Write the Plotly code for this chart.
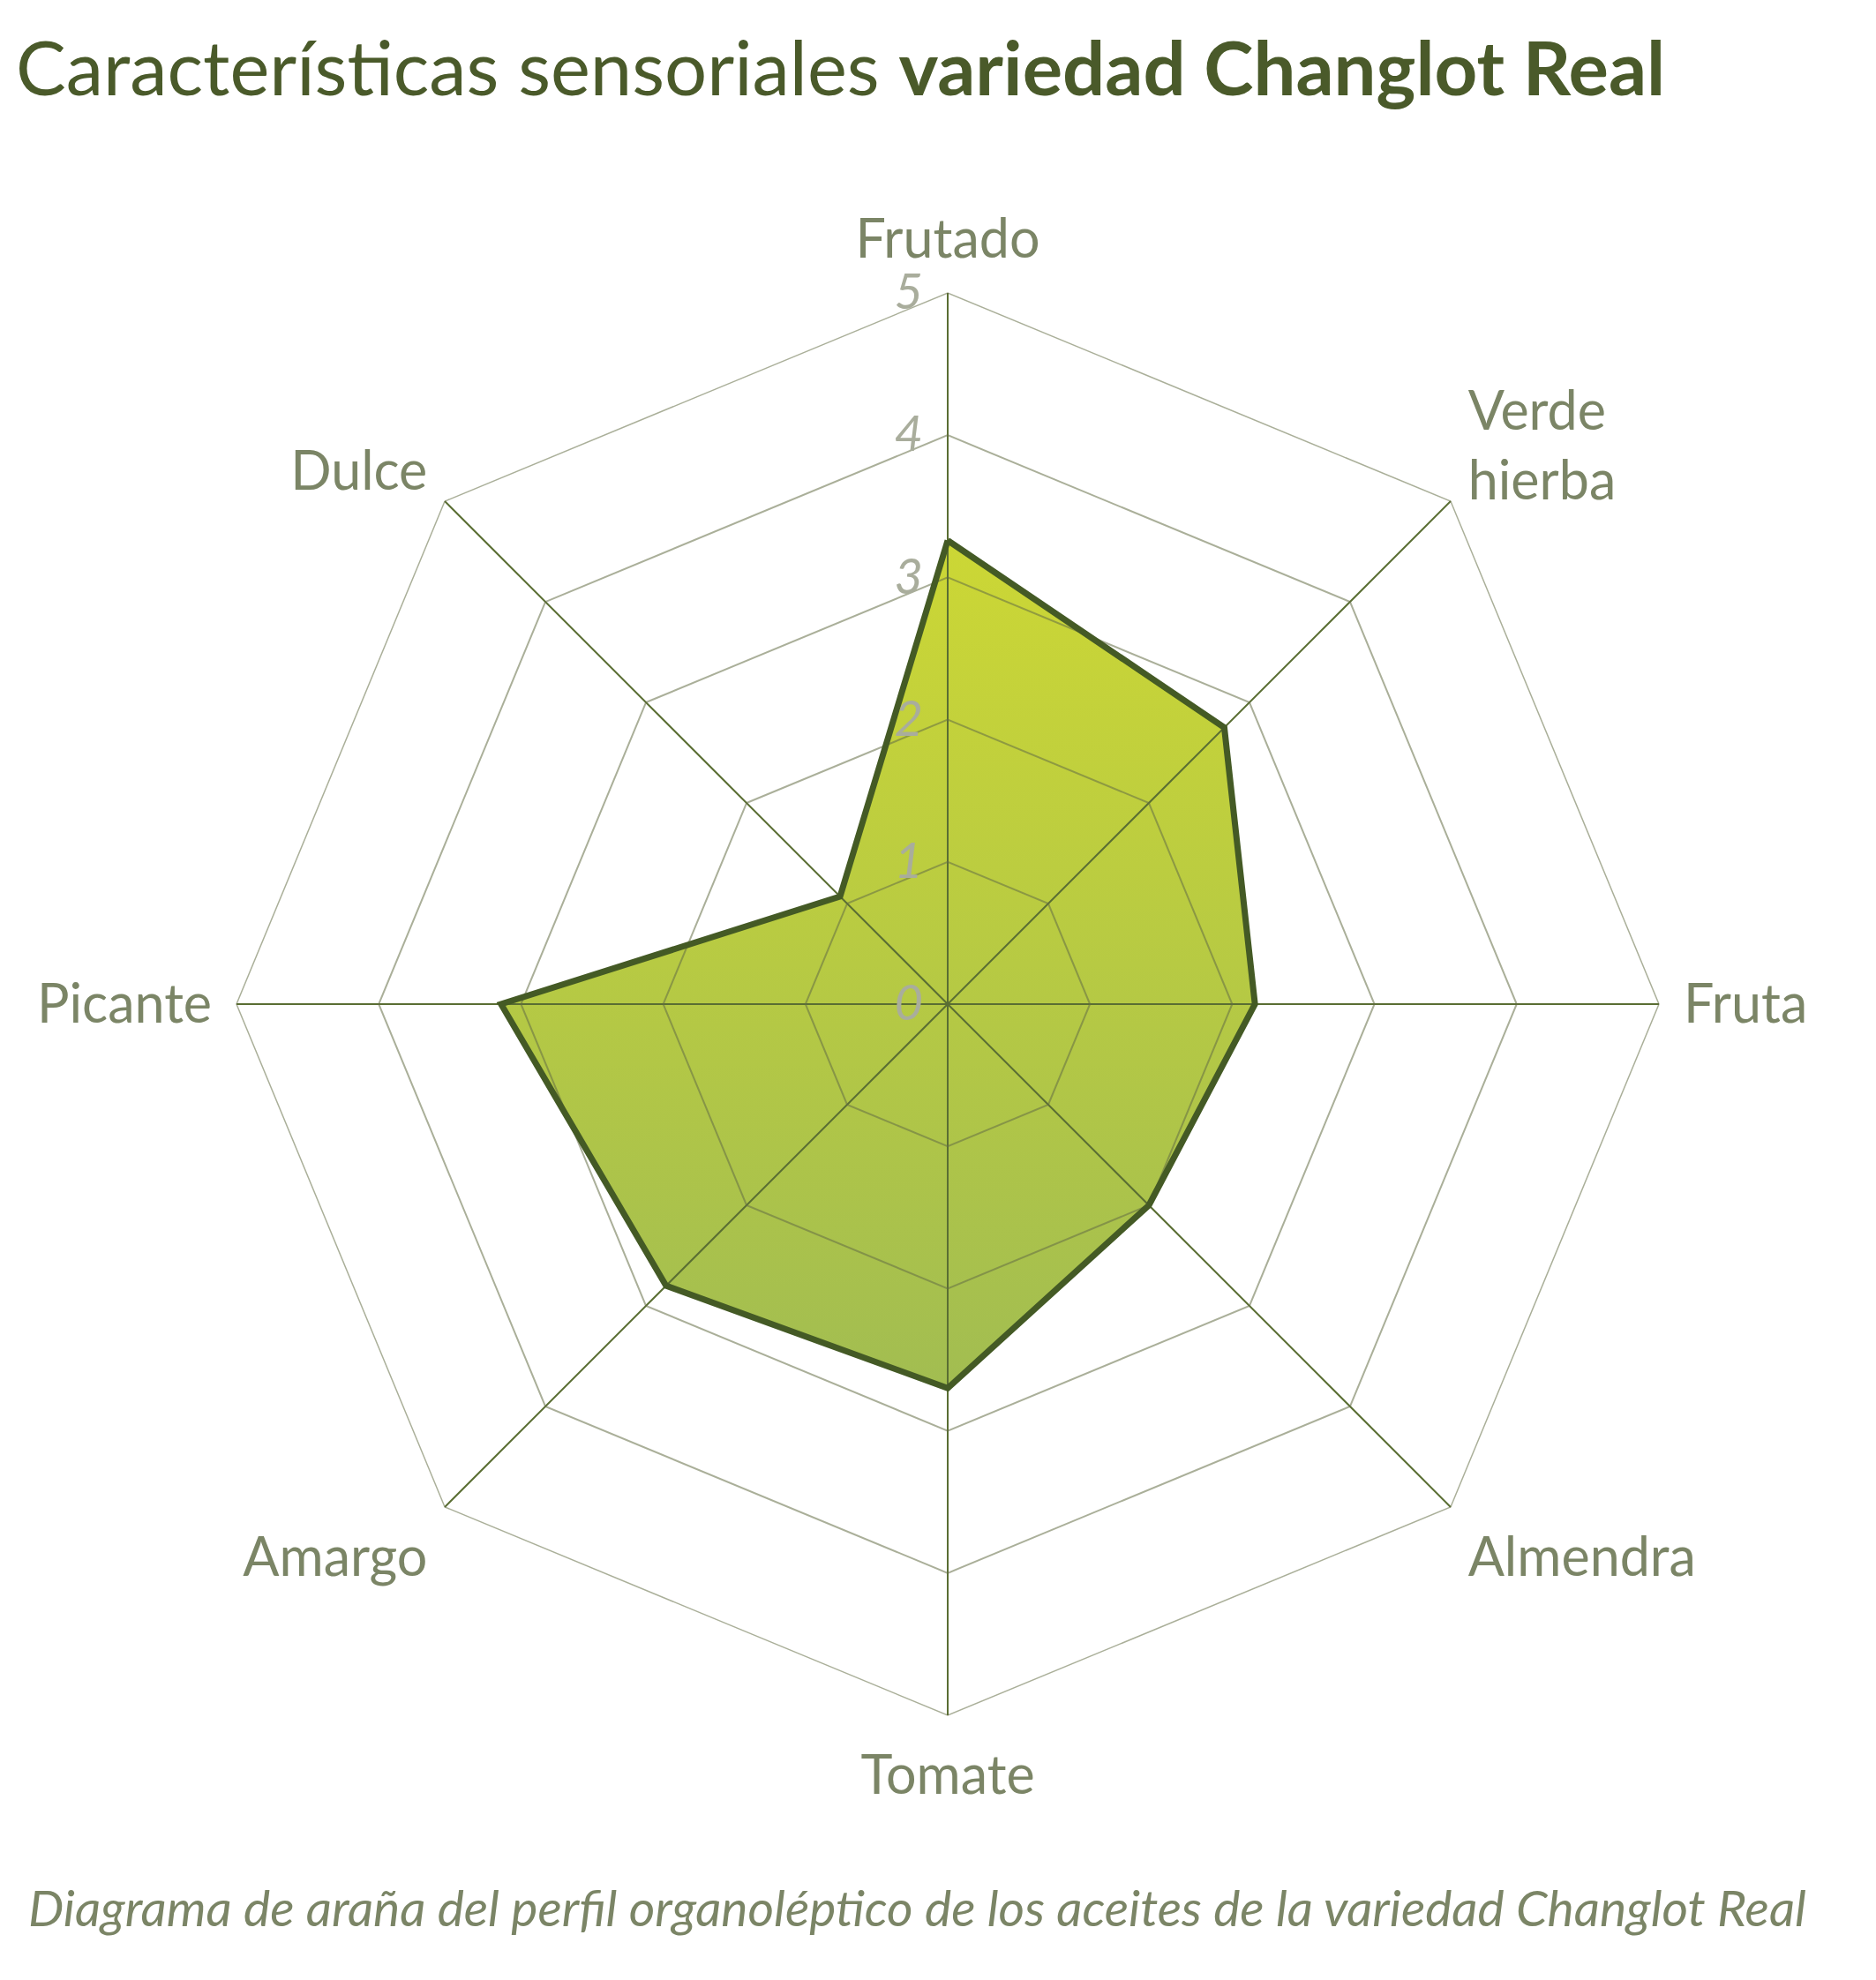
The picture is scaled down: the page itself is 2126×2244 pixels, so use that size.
import numpy as np
import plotly.graph_objects as go

categories = ["Frutado", "Verde<br>hierba", "Fruta", "Almendra", "Tomate", "Amargo", "Picante", "Dulce"]
values = [3.26, 2.75, 2.16, 2.0, 2.7, 2.8, 3.14, 1.07]
radial_ticks = [0, 1, 2, 3, 4, 5]
title_regular = "Características sensoriales "
title_bold = "variedad Changlot Real"
subtitle = "Diagrama de araña del perfil organoléptico de los aceites de la variedad Changlot Real"

W, H = 2126, 2244
cx, cy, R = 1066, 1130, 806
RMAX = 5

dom_x = [(cx - R) / W, (cx + R) / W]
dom_y = [(H - cy - R) / H, (H - cy + R) / H]

theta = categories + [categories[0]]
r = values + [values[0]]

# gradient fill: same polygon projected on a hidden cartesian frame under the polar grid
ang = np.deg2rad(np.arange(len(r)) * 360.0 / len(categories))
fx = np.array(r) * np.sin(ang)
fy = np.array(r) * np.cos(ang)

fig = go.Figure()
fig.add_trace(go.Scatter(
    x=fx, y=fy, mode="lines", fill="toself",
    line=dict(width=0, color="rgba(0,0,0,0)"),
    fillcolor="#b8cc45",
    fillgradient=dict(type="vertical",
                      colorscale=[[0, "#a2bd51"], [1, "#ccd735"]]),
    hoverinfo="skip", showlegend=False,
))
fig.add_trace(go.Scatterpolar(
    r=r, theta=theta, mode="lines",
    line=dict(color="#445a25", width=7),
    hoverinfo="skip", showlegend=False,
))

grid_col = "rgba(100,110,70,0.55)"

fig.update_layout(
    width=W, height=H,
    margin=dict(l=0, r=0, t=0, b=0),
    paper_bgcolor="white",
    plot_bgcolor="rgba(0,0,0,0)",
    font=dict(family="Lato, 'Open Sans', sans-serif"),
    title=dict(
        text=title_regular + "<b>" + title_bold + "</b>",
        x=10 / W, xanchor="left", xref="paper",
        y=1 - 70 / H, yanchor="middle", yref="container",
        font=dict(size=85, color="#4a5a2a", family="Lato, sans-serif"),
    ),
    xaxis=dict(domain=dom_x, range=[-RMAX, RMAX], visible=False, fixedrange=True),
    yaxis=dict(domain=dom_y, range=[-RMAX, RMAX], visible=False, fixedrange=True),
    polar=dict(
        domain=dict(x=dom_x, y=dom_y),
        bgcolor="rgba(0,0,0,0)",
        gridshape="linear",
        radialaxis=dict(
            range=[0, RMAX], tickvals=radial_ticks, ticktext=[str(v) for v in radial_ticks],
            angle=90, tickangle=90, side="counterclockwise", showline=False,
            ticks="outside", ticklen=8, tickcolor="rgba(0,0,0,0)",
            gridcolor=grid_col, gridwidth=1.5,
            tickfont=dict(size=56, color="#a9ad9c", style="italic", family="Lato, sans-serif"),
        ),
        angularaxis=dict(
            rotation=90, direction="clockwise",
            showline=True, linecolor=grid_col, linewidth=1.5,
            gridcolor="#5a6e33", gridwidth=1.6,
            ticks="outside", ticklen=15, tickcolor="rgba(0,0,0,0)",
            tickfont=dict(size=61, color="#7b8566", family="Lato, sans-serif"),
        ),
    ),
    annotations=[dict(
        text="<i>" + subtitle + "</i>",
        x=22 / W, xanchor="left", xref="paper",
        y=(H - 2153) / H, yanchor="middle", yref="paper",
        showarrow=False,
        font=dict(size=57, color="#7b8566", family="Lato, sans-serif"),
    )],
)

fig.write_html("out.html")
